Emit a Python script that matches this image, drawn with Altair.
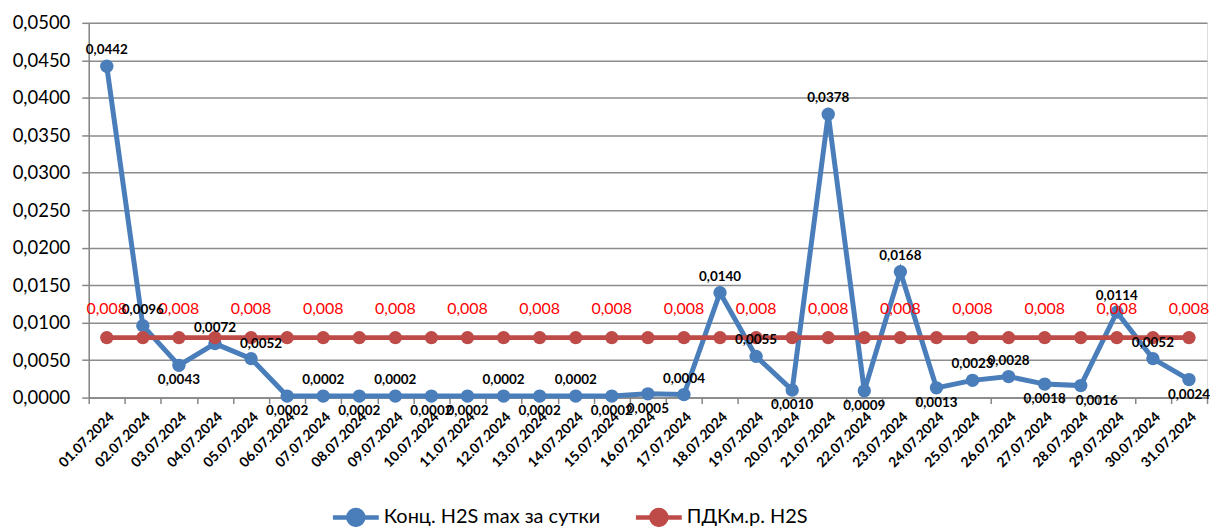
import altair as alt
import pandas as pd

dates = ["01.07.2024", "02.07.2024", "03.07.2024", "04.07.2024", "05.07.2024", "06.07.2024",
         "07.07.2024", "08.07.2024", "09.07.2024", "10.07.2024", "11.07.2024", "12.07.2024",
         "13.07.2024", "14.07.2024", "15.07.2024", "16.07.2024", "17.07.2024", "18.07.2024",
         "19.07.2024", "20.07.2024", "21.07.2024", "22.07.2024", "23.07.2024", "24.07.2024",
         "25.07.2024", "26.07.2024", "27.07.2024", "28.07.2024", "29.07.2024", "30.07.2024",
         "31.07.2024"]
h2s = [0.0442, 0.0096, 0.0043, 0.0072, 0.0052, 0.0002, 0.0002, 0.0002, 0.0002, 0.0002,
       0.0002, 0.0002, 0.0002, 0.0002, 0.0002, 0.0005, 0.0004, 0.0140, 0.0055, 0.0010,
       0.0378, 0.0009, 0.0168, 0.0013, 0.0023, 0.0028, 0.0018, 0.0016, 0.0114, 0.0052,
       0.0024]
pdk = [0.008] * 31
# label placement of the blue series: 1 = above the point, 0 = below
label_above = [1, 1, 0, 1, 1, 0, 1, 0, 1, 0, 0, 1, 0, 1, 0, 0, 1, 1, 1, 0, 1, 0, 1, 0, 1, 1,
               0, 0, 1, 1, 0]
# labels that sit to the right of their point in the reference (placement style)
shifted_right = ["05.07.2024", "28.07.2024"]

S1 = "Конц. H2S max за сутки"
S2 = "ПДКм.р. H2S"
BLUE = "#4a7ebb"
RED = "#be4b48"
FONT = "Lato"

rows = []
for i, d in enumerate(dates):
    rows.append({"date": d, "idx": i, "series": S1, "value": h2s[i],
                 "above": label_above[i], "shift": 1 if d in shifted_right else 0})
    rows.append({"date": d, "idx": i, "series": S2, "value": pdk[i], "above": 1, "shift": 0})
df = pd.DataFrame(rows)

legend_path = "M-2,0L2,0M0.65,0A0.65,0.65,0,1,1,-0.65,0A0.65,0.65,0,1,1,0.65,0Z"

color = alt.Color(
    "series:N",
    scale=alt.Scale(domain=[S1, S2], range=[BLUE, RED]),
    legend=alt.Legend(
        title=None, orient="none", direction="horizontal",
        legendX=254, legendY=482,
        symbolType=legend_path, symbolSize=529, symbolStrokeWidth=4.5,
        labelFont=FONT, labelFontSize=20, labelColor="#000000", labelLimit=400,
        labelOffset=14, columnPadding=26,
    ),
)

x = alt.X(
    "date:O", sort=dates, bandPosition=0.5,
    scale=alt.Scale(type="band", paddingInner=0, paddingOuter=0),
    axis=alt.Axis(
        title=None, labelAngle=-45, labelFont=FONT, labelFontWeight="bold",
        labelFontSize=14, labelColor="#000000", labelPadding=6,
        tickBand="extent", tickSize=6, tickColor="#868686", tickWidth=1.5,
        domainColor="#868686", domainWidth=1.5, grid=False,
    ),
)
y = alt.Y(
    "value:Q",
    scale=alt.Scale(domain=[0, 0.05], nice=False),
    axis=alt.Axis(
        title=None, values=[i * 0.005 for i in range(11)],
        labelExpr="replace(format(datum.value, '.4f'), '.', ',')",
        labelFont=FONT, labelFontSize=18.5, labelColor="#000000", labelPadding=12,
        tickSize=7, tickColor="#868686", tickWidth=1.5,
        domainColor="#868686", domainWidth=1.5,
        grid=True, gridColor="#8c8c8c", gridWidth=1.5,
    ),
)

base = alt.Chart(df).encode(x=x, y=y, color=color)

blue = base.transform_filter(alt.datum.series == S1)
red = base.transform_filter(alt.datum.series == S2)

blue_line = blue.mark_line(strokeWidth=5)
blue_pts = blue.mark_point(filled=True, size=180, opacity=1)
red_line = red.mark_line(strokeWidth=5)
red_pts = red.mark_point(filled=True, size=180, opacity=1)

lab = base.transform_calculate(lbl="replace(format(datum.value, '.4f'), '.', ',')")
txt = dict(font=FONT, fontWeight="bold", fontSize=13.5, color="#000000")
blue_above = lab.transform_filter(
    (alt.datum.series == S1) & (alt.datum.above == 1) & (alt.datum.shift == 0)
).mark_text(dy=-16, **txt).encode(text="lbl:N", color=alt.value("#000000"))
blue_above_r = lab.transform_filter(
    (alt.datum.series == S1) & (alt.datum.above == 1) & (alt.datum.shift == 1)
).mark_text(dy=-15, dx=10, **txt).encode(text="lbl:N", color=alt.value("#000000"))
blue_below = lab.transform_filter(
    (alt.datum.series == S1) & (alt.datum.above == 0) & (alt.datum.shift == 0)
).mark_text(dy=15, **txt).encode(text="lbl:N", color=alt.value("#000000"))
blue_below_r = lab.transform_filter(
    (alt.datum.series == S1) & (alt.datum.above == 0) & (alt.datum.shift == 1)
).mark_text(dy=15, dx=16, **txt).encode(text="lbl:N", color=alt.value("#000000"))
red_lab = base.transform_filter(
    (alt.datum.series == S2) & (alt.datum.idx % 2 == 0)
).transform_calculate(lbl="replace(format(datum.value, '.3f'), '.', ',')").mark_text(
    dy=-29, font=FONT, fontSize=16, color="#ff0000").encode(
    text="lbl:N", color=alt.value("#ff0000"))

chart = alt.layer(
    blue_line, blue_pts, red_line, red_pts, red_lab,
    blue_above, blue_above_r, blue_below, blue_below_r
).properties(
    width=1122, height=376,
    padding={"left": 4, "top": 5, "right": 0, "bottom": 0},
).configure_view(stroke=None).configure(background="#ffffff")

chart.save("out.html", embed_options={"renderer": "svg", "actions": False})
